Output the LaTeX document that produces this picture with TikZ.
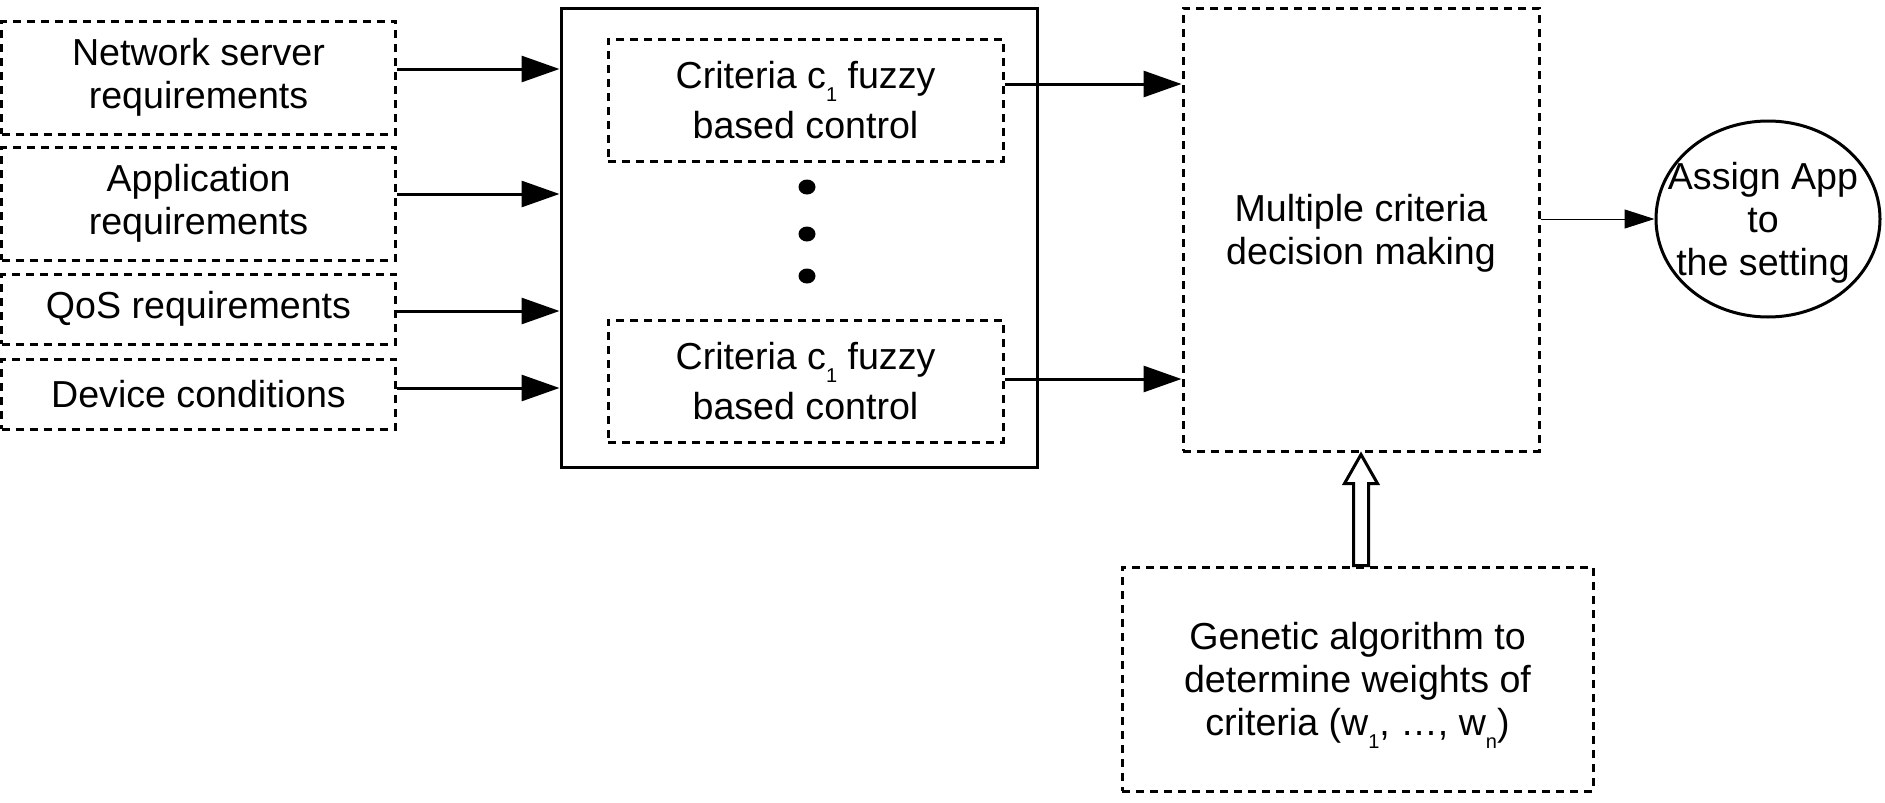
\documentclass[tikz,border=0pt]{standalone}
\usepackage{fontspec}
\setmainfont{Liberation Sans}
\usetikzlibrary{arrows.meta,shapes.geometric}

\newcommand{\sbs}[1]{\raisebox{-13pt}[0pt][0pt]{\fontsize{20}{20}\selectfont #1}}

\begin{document}
\begin{tikzpicture}[x=1pt,y=-1pt]
        \tikzstyle{every node} = [font=\fontsize{37.6}{43}\selectfont, align=center]
        \tikzstyle{dbox} = [rectangle, draw, line width=3pt, dash pattern=on 8pt off 6pt, inner sep=0pt]
        \tikzstyle{arr} = [line width=3pt, -{Triangle[length=38pt,width=26pt]}]
        \tikzstyle{thinarr} = [line width=1pt, -{Triangle[length=30pt,width=19pt]}]

        \useasboundingbox (0,0) rectangle (1885,803);

        % input boxes
        \node[dbox, minimum width=394pt, minimum height=113pt] (nsr) at (198.5, 77.5) {Network server\\requirements};
        \node[dbox, minimum width=394pt, minimum height=113pt] (app) at (198.5, 203.5) {Application\\requirements};
        \node[dbox, minimum width=394pt, minimum height=70pt] (qos) at (198.5, 309) {QoS requirements};
        \node[dbox, minimum width=394pt, minimum height=70pt] (dev) at (198.5, 394) {Device conditions};

        % fuzzy control block
        \node[draw, line width=3pt, minimum width=476pt, minimum height=459pt] (ctrl) at (799, 237.5) {};
        \node[dbox, minimum width=395pt, minimum height=122pt] (fz1) at (805.5, 100) {Criteria c\sbs{1} fuzzy\\[7pt]based control};
        \node[dbox, minimum width=395pt, minimum height=122pt] (fz2) at (805.5, 381) {Criteria c\sbs{1} fuzzy\\[7pt]based control};
        \foreach \y in {187, 234, 276} {
            \fill (807, \y) ellipse [x radius=8.5pt, y radius=7.5pt];
        }

        \node[dbox, minimum width=356pt, minimum height=443pt, text depth=0pt] (mcdm) at (1361, 229.5) {Multiple criteria\\decision making};
        \node[ellipse, draw, line width=3pt, minimum width=224pt, minimum height=196pt,
              label={[align=center, xshift=-5pt, yshift=-4pt]center:Assign App\\to\\the setting}] (assign) at (1768, 219) {};
        \node[dbox, minimum width=471pt, minimum height=224pt, text depth=0pt] (ga) at (1357.5, 679) {Genetic algorithm to\\determine weights of\\criteria (w\sbs{1}, …, w\sbs{n})};

        % connectors
        \foreach \name/\dy in {nsr/8.5, app/9.5, qos/-2, dev/6} {
            \coordinate (\name-out) at ([yshift=\dy pt]\name.east);
            \draw[arr] (\name-out) -- (\name-out -| ctrl.west);
        }
        \coordinate (fz1-out) at ([yshift=16pt]fz1.east);
        \coordinate (fz2-out) at ([yshift=2pt]fz2.east);
        \draw[arr] (fz1-out) -- (fz1-out -| mcdm.west);
        \draw[arr] (fz2-out) -- (fz2-out -| mcdm.west);
        \draw[thinarr] (mcdm.east |- assign.west) -- (assign.west);

        % weights arrow
        \coordinate (ga-top) at (mcdm.south |- ga.north);
        \coordinate (tip) at ([yshift=-2pt]mcdm.south);
        \draw[line width=3pt, line join=miter] ([xshift=-7.5pt]ga-top) -- ([xshift=-7.5pt, yshift=-29pt]tip)
            -- ([xshift=-16.5pt, yshift=-29pt]tip) -- (tip)
            -- ([xshift=16.5pt, yshift=-29pt]tip) -- ([xshift=7.5pt, yshift=-29pt]tip)
            -- ([xshift=7.5pt]ga-top) -- cycle;
\end{tikzpicture}
\end{document}
